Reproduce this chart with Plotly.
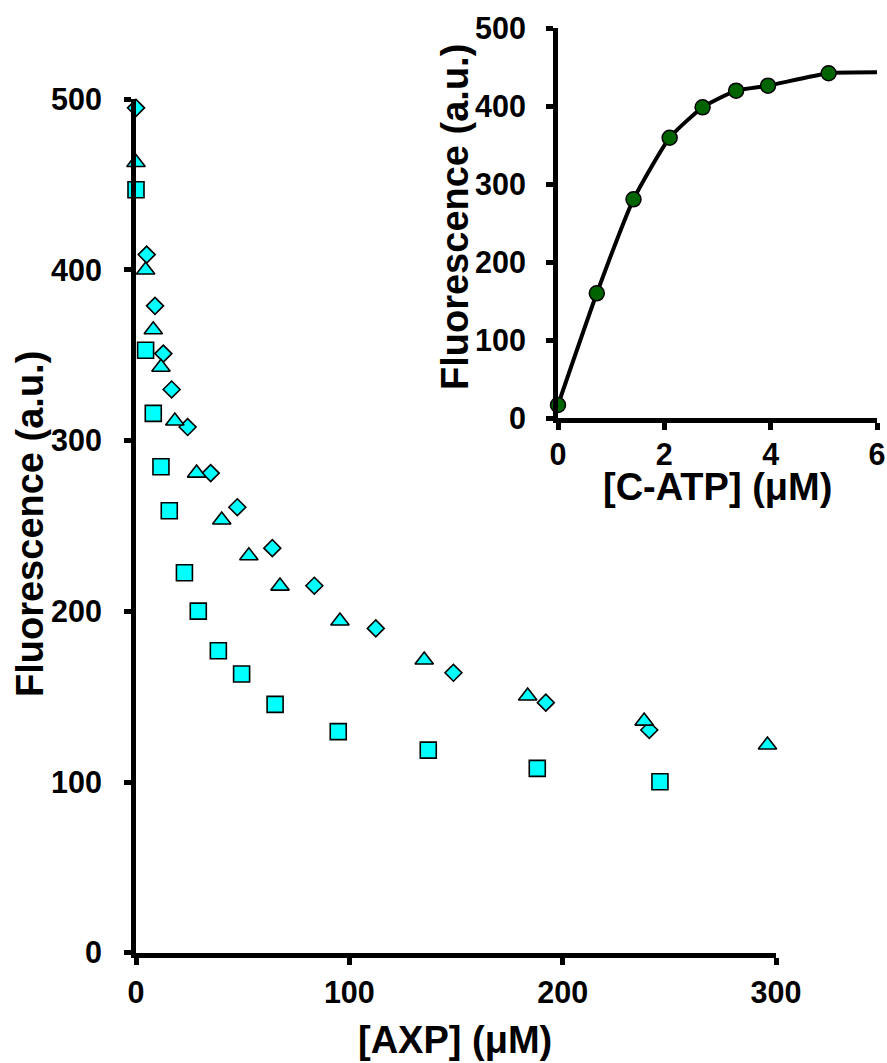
import plotly.graph_objects as go

# Main panel data: [AXP] (uM) vs fluorescence (a.u.)
diamond_x = [0, 5.0, 8.9, 12.8, 16.7, 24.2, 35.0, 47.5, 63.9, 83.6, 112.4, 148.8, 192.1, 240.6]
diamond_y = [495, 409, 379, 351, 330, 308, 281, 261, 237, 215, 190, 164, 146.5, 130.5]

triangle_x = [0, 4.5, 8.1, 11.7, 18.2, 28.4, 40.2, 52.9, 67.5, 95.6, 135.1, 183.6, 238.2, 296]
triangle_y = [463, 400, 365, 343, 311.5, 281, 253.5, 232.6, 214.8, 194.3, 171.5, 150.4, 135.7, 121.7]

square_x = [0, 4.5, 8.1, 11.7, 15.6, 22.7, 29.2, 38.6, 49.5, 65.2, 94.8, 137.0, 188.1, 245.6]
square_y = [447, 353, 316, 284.7, 258.9, 222.6, 200.1, 176.9, 163.3, 145.5, 129.5, 118.7, 108, 100.2]

# Inset data: [C-ATP] (uM) vs fluorescence (a.u.)
catp_x = [0, 0.73, 1.42, 2.10, 2.72, 3.35, 3.95, 5.09]
catp_y = [16.7, 160, 280.6, 359.6, 398.6, 420, 426.4, 442.3]
fit_x = [0, 0.73, 1.42, 2.10, 2.72, 3.35, 3.95, 5.09, 6.0]
fit_y = [16.7, 160, 280.6, 359.6, 398.6, 420, 426.4, 442.3, 443.5]

main_xticks = [0, 100, 200, 300]
main_yticks = [0, 100, 200, 300, 400, 500]
inset_xticks = [0, 2, 4, 6]
inset_yticks = [0, 100, 200, 300, 400, 500]

W, H = 887, 1063
FONT = "Liberation Sans, Arial, sans-serif"
CYAN = "#00FFFF"

fig = go.Figure()

mk_line = dict(color="black", width=1.6)
fig.add_trace(go.Scatter(x=diamond_x, y=diamond_y, mode="markers", cliponaxis=False,
                         marker=dict(symbol="diamond", size=13, color=CYAN, line=mk_line),
                         xaxis="x", yaxis="y", showlegend=False))
fig.add_trace(go.Scatter(x=triangle_x, y=triangle_y, mode="markers", cliponaxis=False,
                         marker=dict(symbol="triangle-up", size=16, color=CYAN, line=mk_line),
                         xaxis="x", yaxis="y", showlegend=False))
fig.add_trace(go.Scatter(x=square_x, y=square_y, mode="markers", cliponaxis=False,
                         marker=dict(symbol="square", size=16, color=CYAN, line=mk_line),
                         xaxis="x", yaxis="y", showlegend=False))

fig.add_trace(go.Scatter(x=fit_x, y=fit_y, mode="lines", cliponaxis=False,
                         line=dict(color="black", width=4, shape="spline", smoothing=0.5),
                         xaxis="x2", yaxis="y2", showlegend=False))
fig.add_trace(go.Scatter(x=catp_x, y=catp_y, mode="markers", cliponaxis=False,
                         marker=dict(symbol="circle", size=15, color="#006400",
                                     line=dict(color="black", width=1.5)),
                         xaxis="x2", yaxis="y2", showlegend=False))

tickfont = dict(family=FONT, size=30.5, color="black", weight="bold")
axis_common = dict(showline=True, linewidth=5, linecolor="black", showgrid=False,
                   zeroline=False, ticks="outside", ticklen=7, tickwidth=5,
                   tickcolor="black", tickfont=tickfont, fixedrange=True,
                   automargin=False)

fig.update_layout(
    width=W, height=H,
    margin=dict(l=0, r=0, t=0, b=0, autoexpand=False),
    paper_bgcolor="white", plot_bgcolor="rgba(0,0,0,0)",
    xaxis=dict(domain=[136 / W, 776 / W], range=[0, 300], tickvals=main_xticks,
               anchor="y", ticklabelstandoff=2, **axis_common),
    yaxis=dict(domain=[1 - 952.7 / H, 1 - 99.3 / H], range=[0, 500], tickvals=main_yticks,
               anchor="x", ticklabelstandoff=16, **axis_common),
    xaxis2=dict(domain=[558 / W, 877 / W], range=[0, 6], tickvals=inset_xticks,
                anchor="y2", ticklabelstandoff=-2, **axis_common),
    yaxis2=dict(domain=[1 - 418 / H, 1 - 28.3 / H], range=[0, 500], tickvals=inset_yticks,
                anchor="x2", ticklabelstandoff=14, **axis_common),
)

titlefont = dict(family=FONT, size=38, color="black", weight="bold")
annots = [
    dict(text="Fluorescence (a.u.)", x=30 / W, y=1 - 524 / H, textangle=-90),
    dict(text="[AXP] (μM)", x=455 / W, y=1 - 1040 / H, textangle=0),
    dict(text="Fluorescence (a.u.)", x=455 / W, y=1 - 217 / H, textangle=-90),
    dict(text="[C-ATP] (μM)", x=717 / W, y=1 - 487 / H, textangle=0),
]
for a in annots:
    fig.add_annotation(xref="paper", yref="paper", showarrow=False,
                       xanchor="center", yanchor="middle", font=titlefont, **a)

fig.write_html("out.html")
